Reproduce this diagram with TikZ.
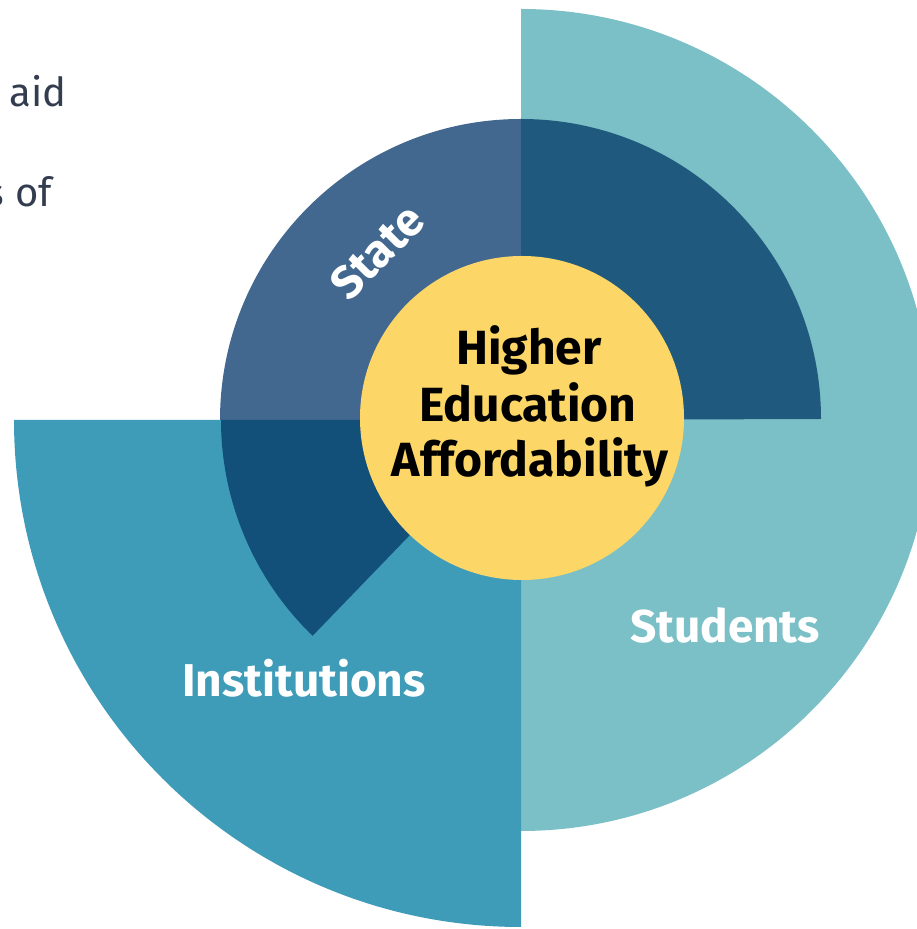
\documentclass[tikz,border=0pt]{standalone}
\usepackage{fontspec}
\setmainfont{Fira Sans}
\definecolor{stud}{HTML}{7BC0C6}
\definecolor{inst}{HTML}{3F9CB9}
\definecolor{state}{HTML}{426890}
\definecolor{darkA}{HTML}{1F5A7E}
\definecolor{darkB}{HTML}{124F79}
\definecolor{yell}{HTML}{FCD667}
\definecolor{txt}{HTML}{333D4F}
\tikzset{
  lbl/.style={text=white, font=\fontsize{46}{50}\selectfont\bfseries, inner sep=0pt},
  ctr/.style={text=black, font=\fontsize{48}{56}\selectfont\bfseries, inner sep=0pt, anchor=base},
  side/.style={text=txt, font=\fontsize{40}{44}\selectfont, inner sep=0pt, anchor=base east}
}
\begin{document}
\begin{tikzpicture}[x=1pt,y=1pt]
\useasboundingbox (0,0) rectangle (917,929);
\clip (0,0) rectangle (917,929);
\coordinate (c) at (521,509);
% students half disk
\fill[stud] (521,920) arc[start angle=90, end angle=-90, radius=411] -- cycle;
% institutions quarter
\fill[inst] (c) -- (14,509) arc[start angle=180, end angle=270, radius=507] -- cycle;
% state quarter
\fill[state] (c) -- (220,509) arc[start angle=180, end angle=90, radius=301] -- cycle;
% top right dark
\fill[darkA] (c) -- (521,810) arc[start angle=90, end angle=0, radius=300] -- cycle;
% lower-left wedge
\fill[darkB] (c) -- (221,509) arc[start angle=180, end angle=226, radius=300] -- cycle;
% yellow circle
\node[circle, fill=yell, minimum size=324pt, inner sep=0pt] (hub) at (522,511) {};
\node[ctr] (l1) at (529,564) {Higher};
\node[ctr] (l2) at (528,507) {Education};
\node[ctr] (l3) at (530,452) {Affordability};
\node[lbl, anchor=base] (students) at (725,286) {Students};
\node[lbl, anchor=base] (institutions) at (304,232) {Institutions};
\node[lbl, rotate=45] (statelbl) at (377,677) {State};
\node[side] (t1) at (67,822) {aid};
\node[side] (t2) at (52,722) {s of};
\end{tikzpicture}
\end{document}
